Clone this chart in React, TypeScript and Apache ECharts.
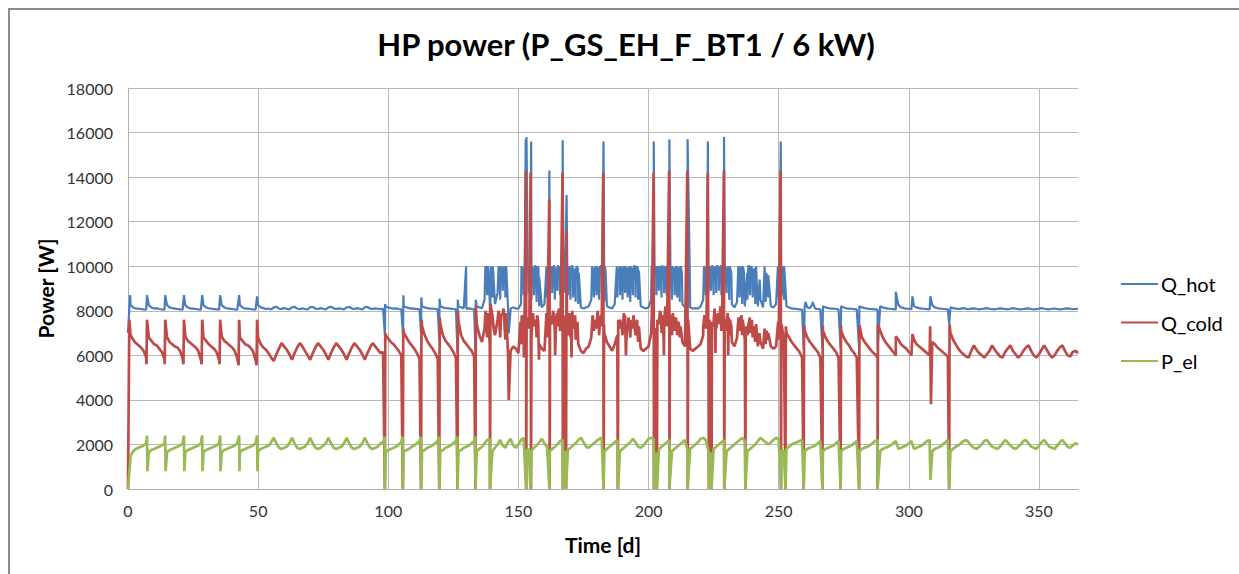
import React, { useEffect, useRef } from "react";
import * as echarts from "echarts";

const chartTitle = "HP power (P_GS_EH_F_BT1 / 6 kW)";
const seriesNames = ["Q_hot", "Q_cold", "P_el"];
const seriesColors = ["#4A7EBB", "#BE4B48", "#98B954"];
const xName = "Time [d]";
const yName = "Power [W]";

// daily values, index = day 0..365
const hotDaily = [
  7000, 8250, 8150, 8100, 8100, 8080, 8060, 8050, 8250, 8150,
  8100, 8120, 8080, 8060, 8050, 8250, 8150, 8120, 8100, 8080,
  8060, 8050, 8250, 8150, 8100, 8100, 8080, 8060, 8050, 8250,
  8150, 8110, 8100, 8070, 8060, 8050, 8250, 8150, 8110, 8100,
  8080, 8060, 8050, 8250, 8150, 8100, 8100, 8080, 8060, 8050,
  8250, 8150, 8120, 8080, 8100, 8060, 8150, 8180, 8100, 8080,
  8120, 8090, 8060, 8150, 8180, 8100, 8070, 8110, 8080, 8060,
  8160, 8170, 8100, 8080, 8120, 8090, 8060, 8150, 8180, 8110,
  8080, 8110, 8090, 8060, 8150, 8170, 8100, 8080, 8120, 8090,
  8060, 8160, 8170, 8100, 8080, 8110, 8090, 8070, 8100, 8200,
  8150, 8120, 8100, 8110, 8080, 8060, 8200, 8150, 8120, 8100,
  8100, 8080, 8060, 8200, 8150, 8120, 8100, 8100, 8080, 8060,
  8200, 8150, 8120, 8110, 8100, 8080, 8060, 8200, 8150, 8120,
  8100, 8110, 8080, 8060, 8200, 8150, 8120, 8500, 8700, 8400,
  8600, 8300, 8800, 8500, 8900, 8600, 8200, 8100, 8150, 8100,
  8100, 8300, 8700, 8600, 8800, 8500, 8700, 8400, 8200, 8150,
  8300, 8600, 8700, 8800, 8500, 8900, 8700, 8600, 8800, 8700,
  8500, 8600, 8400, 8300, 8150, 8100, 8150, 8200, 8500, 8600,
  8700, 8500, 8800, 8400, 8200, 8150, 8100, 8300, 8600, 8700,
  8500, 8800, 8600, 8400, 8700, 8600, 8500, 8200, 8150, 8100,
  8150, 8500, 8800, 8700, 8900, 8600, 8800, 8700, 8900, 8500,
  8700, 8600, 8400, 8300, 8150, 8200, 8150, 8100, 8120, 8100,
  8200, 8500, 8700, 8800, 8900, 8700, 8800, 8900, 8700, 8600,
  8800, 8500, 8300, 8150, 8400, 8600, 8300, 8200, 8500, 8700,
  8600, 8300, 8200, 8500, 8150, 8400, 8600, 8200, 8150, 8300,
  8600, 8700, 8500, 8200, 8150, 8100, 8100, 8080, 8060, 8050,
  8200, 8150, 8120, 8300, 8100, 8080, 8060, 8200, 8150, 8120,
  8100, 8100, 8080, 8060, 8200, 8150, 8110, 8100, 8090, 8070,
  8060, 8200, 8150, 8120, 8100, 8080, 8070, 8060, 8050, 8200,
  8150, 8120, 8100, 8090, 8070, 8060, 8250, 8150, 8120, 8100,
  8090, 8070, 8200, 8150, 8120, 8100, 8090, 8070, 8060, 8250,
  8150, 8120, 8100, 8090, 8070, 8060, 8150, 8120, 8100, 8080,
  8100, 8120, 8090, 8070, 8100, 8110, 8090, 8060, 8080, 8100,
  8120, 8090, 8070, 8060, 8090, 8110, 8100, 8080, 8060, 8090,
  8120, 8100, 8070, 8060, 8080, 8100, 8110, 8080, 8060, 8070,
  8100, 8120, 8090, 8070, 8060, 8090, 8100, 8080, 8060, 8070,
  8100, 8110, 8090, 8070, 8080, 8090,
];

const coldDaily = [
  0, 6900, 6700, 6550, 6450, 6350, 6200, 5900, 6800, 6650,
  6500, 6450, 6300, 6150, 5850, 6800, 6600, 6500, 6400, 6350,
  6200, 5850, 6850, 6650, 6550, 6450, 6350, 6200, 5800, 6800,
  6650, 6500, 6400, 6300, 6150, 5800, 6850, 6650, 6550, 6450,
  6350, 6200, 5850, 6800, 6650, 6500, 6450, 6350, 6200, 5800,
  6800, 6500, 6350, 6250, 6100, 5900, 5750, 6050, 6300, 6550,
  6400, 6250, 6050, 5800, 6100, 6350, 6550, 6400, 6200, 6000,
  5800, 6100, 6350, 6550, 6400, 6250, 6050, 5800, 6100, 6350,
  6550, 6400, 6250, 6050, 5800, 6100, 6350, 6550, 6400, 6250,
  6050, 5800, 6100, 6350, 6550, 6400, 6250, 6100, 6150, 6900,
  6750, 6600, 6500, 6350, 6200, 6000, 7000, 6800, 6600, 6450,
  6300, 6100, 5850, 7300, 6900, 6650, 6450, 6300, 6100, 5850,
  7400, 6900, 6650, 6500, 6350, 6150, 5900, 7500, 6900, 6650,
  6500, 6350, 6200, 5950, 7400, 6900, 6600, 7200, 6800, 6500,
  7800, 6900, 7600, 6800, 7900, 6700, 6100, 6200, 6400, 6300,
  6100, 6500, 7000, 7400, 7200, 6900, 7300, 6800, 6500, 6300,
  6200, 6800, 7200, 7500, 7000, 7300, 7100, 7400, 7200, 6900,
  6800, 7200, 6700, 6500, 6200, 6100, 6300, 6400, 6800, 7100,
  7200, 6900, 7300, 7000, 6600, 6400, 6200, 6500, 6900, 7200,
  6900, 7300, 7100, 6800, 7200, 6900, 6600, 6300, 6200, 6300,
  6400, 7000, 7300, 7100, 7400, 7000, 7200, 7300, 7000, 6900,
  7100, 6900, 6800, 6600, 6400, 6600, 6300, 6200, 6300, 6400,
  6500, 6900, 7200, 7400, 7100, 7300, 7200, 7400, 7100, 6900,
  7100, 6900, 6600, 6400, 6800, 7100, 6900, 6700, 6900, 7000,
  6800, 6600, 6400, 6600, 6300, 6500, 6700, 6400, 6300, 6400,
  6700, 7000, 6700, 7000, 6800, 6600, 6450, 6300, 6150, 5900,
  7100, 6800, 6600, 6450, 6300, 6150, 5900, 7100, 6800, 6600,
  6450, 6300, 6150, 5900, 7100, 6800, 6600, 6450, 6250, 6100,
  5900, 7100, 6800, 6600, 6450, 6300, 6150, 6050, 5900, 7100,
  6800, 6600, 6450, 6300, 6150, 6000, 6700, 6500, 6400, 6300,
  6150, 6000, 6700, 6500, 6400, 6300, 6200, 6100, 6000, 6600,
  6500, 6350, 6250, 6150, 6050, 5950, 7000, 6700, 6500, 6300,
  6150, 6050, 5950, 5900, 6200, 6450, 6250, 6100, 6000, 5900,
  6050, 6200, 6450, 6250, 6100, 5950, 5900, 6150, 6300, 6450,
  6200, 6050, 5900, 6000, 6200, 6350, 6450, 6200, 6000, 5900,
  6050, 6250, 6450, 6250, 6050, 5900, 6000, 6200, 6350, 6450,
  6200, 6000, 5950, 6150, 6200, 6100,
];

const elDaily = [
  0, 1500, 1700, 1800, 1850, 1900, 1950, 2050, 1650, 1750,
  1800, 1850, 1900, 1950, 2050, 1650, 1750, 1800, 1850, 1900,
  1950, 2050, 1650, 1750, 1800, 1850, 1900, 1950, 2050, 1650,
  1750, 1800, 1850, 1900, 1950, 2050, 1650, 1750, 1800, 1850,
  1900, 1950, 2050, 1650, 1750, 1800, 1850, 1900, 1950, 2050,
  1700, 1800, 1850, 1900, 1950, 2100, 2300, 2050, 1850, 1800,
  1850, 1900, 2050, 2300, 2050, 1850, 1800, 1850, 1900, 2050,
  2300, 2050, 1850, 1800, 1850, 1950, 2050, 2300, 2050, 1850,
  1800, 1850, 1900, 2050, 2300, 2050, 1850, 1800, 1850, 1900,
  2050, 2300, 2050, 1850, 1800, 1850, 1900, 2050, 2100, 1650,
  1750, 1800, 1850, 1900, 2000, 2100, 1700, 1750, 1800, 1900,
  1950, 2050, 2150, 1700, 1750, 1850, 1900, 1950, 2050, 2150,
  1700, 1750, 1850, 1900, 1950, 2050, 2150, 1700, 1750, 1850,
  1900, 1950, 2050, 2150, 1700, 1800, 1900, 2050, 2200, 2250,
  1700, 1850, 2000, 2200, 1950, 1850, 2100, 2250, 1950, 1850,
  2000, 2200, 2300, 1700, 1800, 1700, 1850, 1950, 2100, 2250,
  2050, 1900, 1700, 1800, 1900, 2000, 2150, 2200, 1700, 1750,
  1850, 1950, 2050, 2200, 2300, 2100, 1900, 1850, 1950, 2050,
  2150, 2250, 2300, 1700, 1800, 1900, 2000, 2100, 2200, 1700,
  1800, 1900, 2000, 2100, 2250, 2100, 1900, 1850, 1950, 2100,
  2250, 2300, 2250, 1650, 1800, 1900, 2000, 2100, 2200, 1700,
  1800, 1900, 2000, 2100, 2200, 1700, 1800, 1900, 2000, 2100,
  2250, 2300, 2200, 1700, 1650, 1800, 1900, 2000, 2100, 2200,
  1700, 1800, 1900, 2000, 2100, 2200, 2300, 2150, 1700, 1800,
  1900, 2000, 2150, 2300, 2200, 2100, 2000, 2100, 2200, 2300,
  2250, 1700, 1700, 1800, 1900, 2000, 2050, 2100, 2150, 2200,
  1700, 1800, 1850, 1900, 1950, 2050, 2150, 1700, 1800, 1850,
  1900, 1950, 2050, 2150, 1700, 1800, 1850, 1900, 1950, 2050,
  2150, 1700, 1800, 1850, 1900, 1950, 2050, 2150, 2200, 1700,
  1800, 1850, 1900, 1950, 2050, 2150, 1800, 1850, 1900, 1950,
  2050, 2150, 1800, 1850, 1900, 1950, 2050, 2150, 2200, 1700,
  1800, 1850, 1900, 2000, 2100, 2200, 1700, 1800, 1900, 1950,
  2050, 2150, 2200, 2100, 1950, 1850, 1800, 1900, 2000, 2150,
  2200, 2050, 1900, 1850, 1800, 1900, 2050, 2200, 2100, 1950,
  1850, 1800, 1900, 2000, 2150, 2200, 2050, 1900, 1850, 1800,
  1950, 2100, 2200, 2050, 1900, 1850, 1800, 1950, 2100, 2200,
  2050, 1900, 1850, 1950, 2050, 2000,
];

// short events between the daily values: [day, W]
const hotEvents = [
  [0.8, 8700], [7.3, 8700], [14.3, 8700], [21.5, 8700], [28.5, 8700], [35.4, 8700], [42.7, 8700], [49.6, 8650],
  [98.7, 6900], [98.8, 8300], [105.7, 6900], [105.8, 8700], [112.6, 7000], [112.7, 8600], [119.6, 6700], [119.7, 8550],
  [126.6, 6100], [126.7, 8500], [129.9, 10000], [133.5, 6100], [133.6, 8500],
  [137.3, 10000], [137.7, 10000], [138.3, 10000], [138.6, 9600], [139.1, 7300], [139.4, 10000], [140.3, 9800],
  [142.4, 10000], [143.2, 10000], [143.6, 9500], [144.2, 10000], [144.8, 9800], [145.3, 10000], [146.3, 7000],
  [151.2, 10000], [151.8, 9800], [152.5, 10000], [152.8, 15700], [153.1, 15800], [153.6, 10000], [154.3, 10000],
  [154.9, 15600], [155.5, 9700], [156.2, 10000], [156.8, 9900], [157.4, 10000], [158.0, 9500],
  [160.8, 10000], [161.4, 9800], [161.9, 14300], [162.6, 10000], [163.3, 9900], [163.9, 10000], [164.7, 9700],
  [165.4, 10000], [166.2, 9800], [167.0, 15650], [167.6, 10000], [168.5, 13200], [169.2, 10000], [170.0, 9800],
  [170.8, 10000], [171.6, 9600], [172.4, 10000], [173.2, 9700],
  [178.3, 10000], [179.2, 9800], [180.1, 10000], [181.0, 9700], [181.8, 10000], [182.7, 15600], [183.5, 9800],
  [187.8, 10000], [188.5, 9700], [189.3, 10000], [190.2, 9900], [191.0, 10000], [192.1, 9800], [193.0, 10000],
  [194.0, 9700], [194.8, 10000], [195.5, 10000], [196.3, 9800],
  [201.2, 10000], [202.0, 15600], [202.6, 10000], [203.3, 9900], [204.0, 10000], [204.7, 9800], [205.4, 10000],
  [206.2, 9900], [207.0, 10000], [208.0, 15700], [208.7, 10000], [209.4, 9900], [210.6, 10000], [211.5, 9800],
  [212.4, 10000], [215.0, 15700], [215.8, 10000],
  [221.3, 10000], [222.1, 9800], [222.8, 15600], [223.6, 10000], [224.3, 10000], [225.0, 9900], [225.7, 10000],
  [226.4, 10000], [227.1, 9800], [227.8, 10000], [228.5, 10000], [229.0, 15800], [229.6, 10000], [230.3, 9800],
  [231.0, 10000], [231.8, 9700],
  [234.5, 10000], [235.4, 9800], [236.2, 10000], [237.9, 9700], [238.8, 10000], [239.5, 10000], [240.3, 9800],
  [241.3, 10000], [242.7, 9400], [244.6, 10000], [245.3, 9700], [246.0, 9600],
  [249.7, 10000], [250.3, 9800], [250.8, 15600], [251.5, 10000], [252.1, 10000],
  [259.6, 6300], [260.3, 8400], [263.0, 8400], [266.8, 6300], [273.8, 6300], [280.9, 6300], [288.0, 6300],
  [295.0, 8850], [301.4, 8650], [308.3, 8650], [315.5, 7400],
];

// further short bursts of Q_hot inside the busy summer period
const hotBursts = [
  [137.5, 9800], [138.0, 9700], [139.7, 9500], [140.0, 10000], [142.8, 9800], [143.9, 9900], [144.5, 9700], [145.0, 9900],
  [151.5, 9900], [152.2, 9700], [153.9, 9800], [154.6, 9900], [155.2, 10000], [155.9, 9800], [156.5, 10000],
  [157.1, 9700], [157.7, 9900],
  [161.1, 10000], [161.7, 9700], [162.3, 9900], [162.9, 9800], [163.6, 10000], [164.3, 9900], [165.0, 10000],
  [165.8, 9900], [166.6, 10000], [167.3, 9700], [168.0, 9900], [168.8, 9800], [169.6, 9900], [170.4, 10000],
  [171.2, 9900], [172.0, 9800], [172.8, 9900],
  [178.7, 9800], [179.6, 10000], [180.5, 9900], [181.4, 10000], [182.2, 9900], [183.1, 10000],
  [188.1, 9900], [188.9, 10000], [189.7, 9800], [190.6, 10000], [191.5, 9900], [192.5, 10000], [193.5, 9900],
  [194.4, 10000], [195.2, 9800], [195.9, 9900],
  [201.6, 9900], [202.3, 10000], [202.9, 9800], [203.6, 10000], [204.4, 9900], [205.0, 10000], [205.8, 9800],
  [206.6, 10000], [207.4, 9900], [208.4, 9800], [209.0, 10000], [209.8, 9800], [210.2, 9900], [211.0, 10000],
  [212.0, 9900], [212.8, 9700],
  [221.7, 9900], [222.5, 10000], [223.2, 9800], [224.0, 9900], [224.7, 10000], [225.4, 9800], [226.0, 10000],
  [226.8, 9900], [227.5, 10000], [228.2, 9900], [228.8, 9800], [229.3, 10000], [230.0, 9900], [230.7, 10000],
  [231.4, 9900],
  [234.9, 9900], [235.8, 10000], [236.6, 9800], [238.3, 10000], [239.2, 9900], [239.9, 9800], [240.8, 9900],
];

const coldEvents = [
  [0.5, 7600], [7.1, 5600], [7.3, 7600], [14.1, 5600], [14.3, 7600], [21.3, 5600], [21.5, 7600],
  [28.3, 5600], [28.5, 7600], [35.2, 5600], [35.4, 7600], [42.5, 5550], [42.7, 7600], [49.4, 5550], [49.6, 7600],
  [98.7, 0], [98.85, 7000], [105.6, 0], [105.75, 7200], [112.6, 0], [112.75, 7600], [119.6, 0], [119.75, 7700],
  [126.6, 0], [126.75, 8000], [133.5, 0], [133.65, 8200], [137.4, 8000], [138.2, 7900], [139.1, 0], [139.25, 8300],
  [140.5, 7200], [142.4, 8000], [143.3, 7800], [144.3, 8100], [145.3, 7900], [146.3, 4000],
  [151.3, 7800], [152.4, 8100], [152.85, 14300], [153.0, 0], [153.15, 7500], [154.7, 14200], [154.85, 0],
  [155.0, 6800], [155.6, 7900], [156.3, 7600], [157.2, 7800],
  [160.8, 7900], [161.85, 13000], [162.0, 0], [162.15, 7600], [163.4, 8000], [164.5, 7700], [165.5, 8100],
  [166.96, 14200], [167.1, 0], [167.25, 7800], [168.3, 0], [168.5, 11600], [168.65, 7200], [169.6, 7900],
  [170.7, 8000], [171.8, 7800], [172.7, 7500], [178.5, 7800], [179.5, 7600],
  [180.4, 8000], [181.5, 7700], [182.6, 14200], [182.75, 0], [182.9, 7400], [188.2, 0], [188.35, 7600],
  [190.5, 7900], [192.3, 7700], [194.2, 7800], [195.6, 7600],
  [201.3, 7900], [201.95, 14200], [202.1, 0], [202.3, 7200], [203.2, 0], [203.4, 7600], [204.4, 8000],
  [205.6, 7800], [206.5, 8200], [207.9, 14300], [208.05, 0], [208.2, 7800], [209.3, 7900],
  [210.5, 7700], [211.6, 7500], [214.9, 14300], [215.05, 0], [215.2, 7600],
  [221.5, 7800], [222.75, 14200], [222.9, 7500], [223.2, 0], [223.35, 7600], [224.2, 0], [224.35, 7500],
  [225.4, 8100], [226.6, 7900], [227.6, 8200], [228.95, 14300], [229.1, 0], [229.25, 7600],
  [230.4, 7900], [231.3, 7600], [234.6, 7700], [235.7, 7800], [237.2, 0], [237.35, 7300], [238.9, 7700], [239.7, 7600],
  [241.3, 7400], [244.6, 7200], [245.3, 7100], [249.8, 7500],
  [250.75, 14300], [250.9, 0], [251.1, 7400], [252.6, 0], [252.75, 7300], [259.6, 0], [259.75, 7350],
  [266.8, 0], [266.95, 7350], [273.8, 0], [273.95, 7350], [280.9, 0], [281.05, 7350], [288.0, 0], [288.15, 7400],
  [295.0, 6850], [301.4, 6950], [308.2, 7300], [308.5, 3800], [315.5, 0], [315.65, 7400],
];

// further short swings of Q_cold inside the busy summer period
const coldBursts = [
  [150.8, 7500], [151.7, 7300], [152.1, 5900], [153.6, 7700], [154.2, 7400], [156.8, 7300], [157.6, 7500],
  [157.9, 5800], [161.2, 7600], [162.6, 7400], [163.0, 7700], [163.9, 7300], [164.1, 6000], [164.9, 7900],
  [166.2, 7500], [169.2, 7400], [170.2, 7600], [170.4, 5900], [171.2, 7300], [178.9, 7400], [180.9, 7500],
  [181.9, 7800], [189.0, 7600], [189.7, 7300], [191.0, 7800], [191.3, 6000], [191.7, 7400], [193.3, 7600],
  [196.3, 7300], [204.0, 7500], [204.8, 7800], [205.2, 7300], [205.9, 6000], [206.0, 7600], [207.2, 7900],
  [209.7, 7500], [210.9, 7400], [212.3, 7300], [221.0, 7300], [222.3, 7600], [225.0, 7500], [225.7, 6100],
  [225.9, 7800], [226.3, 7400], [227.2, 7600], [228.3, 7900], [230.0, 7500], [230.6, 6000], [230.8, 7700],
  [231.8, 7300], [234.3, 7300], [235.2, 7500], [236.2, 7600], [238.4, 7400], [240.3, 7300], [242.6, 7000],
  [246.0, 7000],
];

const elEvents = [
  [7.3, 2400], [7.45, 800], [14.3, 2400], [14.45, 800], [21.5, 2400], [21.65, 800], [28.5, 2400], [28.65, 800],
  [35.4, 2400], [35.55, 800], [42.7, 2400], [42.85, 800], [49.6, 2400], [49.75, 800],
  [98.6, 2350], [98.7, 0], [105.5, 2350], [105.6, 0], [112.5, 2350], [112.6, 0], [119.5, 2350], [119.6, 0],
  [126.5, 2350], [126.6, 0], [133.4, 2350], [133.5, 0], [139.1, 0],
  [152.95, 0], [154.6, 0], [161.9, 0], [167.0, 0], [168.3, 0], [182.7, 0], [188.3, 0],
  [202.1, 0], [203.2, 0], [208.0, 0], [215.0, 0], [223.2, 0], [224.2, 0], [229.1, 0], [237.2, 0],
  [250.9, 0], [252.6, 0], [259.6, 0], [266.8, 0], [273.8, 0], [280.9, 0], [288.0, 0], [308.3, 400], [315.5, 0],
];

function merge(daily: number[], ...lists: number[][][]) {
  const pts = daily.map((v, i) => [i, v]);
  return pts.concat(...lists).sort((a, b) => a[0] - b[0]);
}

const FONT = "Lato, 'Open Sans', sans-serif";

export default function App() {
  const ref = useRef<HTMLDivElement>(null);
  useEffect(() => {
    document.body.style.overflow = "hidden";
    const chart = echarts.init(ref.current!, null, { renderer: "svg" });
    const datas = [
      merge(hotDaily, hotEvents, hotBursts),
      merge(coldDaily, coldEvents, coldBursts),
      merge(elDaily, elEvents),
    ];
    chart.setOption({
      animation: false,
      textStyle: { fontFamily: FONT },
      graphic: [
        {
          type: "text",
          x: 616,
          y: 34,
          style: {
            text: chartTitle,
            font: `bold 31px ${FONT}`,
            fill: "#000",
            textAlign: "center",
            textVerticalAlign: "middle",
          },
        },
      ],
      grid: { left: 118, top: 78, width: 950, height: 401, containLabel: false },
      legend: {
        orient: "vertical",
        left: 1111,
        top: 264,
        padding: 0,
        itemWidth: 37,
        itemHeight: 22,
        itemGap: 18.5,
        icon: "path://M0,10 L37,10 L37,12 L0,12 Z",
        textStyle: { fontSize: 20, color: "#000", fontFamily: FONT, padding: [0, 0, 0, -2] },
        data: seriesNames,
      },
      xAxis: {
        type: "value",
        min: 0,
        max: 365,
        interval: 50,
        name: xName,
        nameLocation: "middle",
        nameGap: 45,
        nameTextStyle: { fontSize: 21, fontWeight: "bold", color: "#000", fontFamily: FONT },
        axisLine: { show: true, lineStyle: { color: "#b0b0b0", width: 1 } },
        axisTick: { show: false },
        axisLabel: { fontSize: 16, color: "#333", margin: 13, showMaxLabel: false, fontFamily: FONT, formatter: (v: number) => String(v) },
        splitLine: { show: true, showMaxLine: false, lineStyle: { color: "#b8b8b8", width: 1 } },
      },
      yAxis: {
        type: "value",
        min: 0,
        max: 18000,
        interval: 2000,
        name: yName,
        nameLocation: "middle",
        nameGap: 68,
        nameRotate: 90,
        nameTextStyle: { fontSize: 21, fontWeight: "bold", color: "#000", fontFamily: FONT },
        axisLine: { show: true, lineStyle: { color: "#b0b0b0", width: 1 } },
        axisTick: { show: false },
        axisLabel: { fontSize: 16, color: "#333", margin: 15, fontFamily: FONT, formatter: (v: number) => String(v) },
        splitLine: { show: true, lineStyle: { color: "#b8b8b8", width: 1 } },
      },
      series: seriesNames.map((name, i) => ({
        name,
        type: "line",
        data: datas[i],
        showSymbol: false,
        symbol: "none",
        color: seriesColors[i],
        lineStyle: { width: i === 0 ? 2.2 : 2.7, color: seriesColors[i] },
        z: 2 + i,
      })),
    });
    return () => chart.dispose();
  }, []);
  return (
    <div
      style={{
        position: "fixed",
        left: 8,
        top: 8,
        width: 1300,
        height: 640,
        borderLeft: "2px solid #8c8c8c",
        borderTop: "2px solid #8c8c8c",
        background: "#fff",
      }}
    >
      <div ref={ref} style={{ width: 1229, height: 564 }} />
    </div>
  );
}
